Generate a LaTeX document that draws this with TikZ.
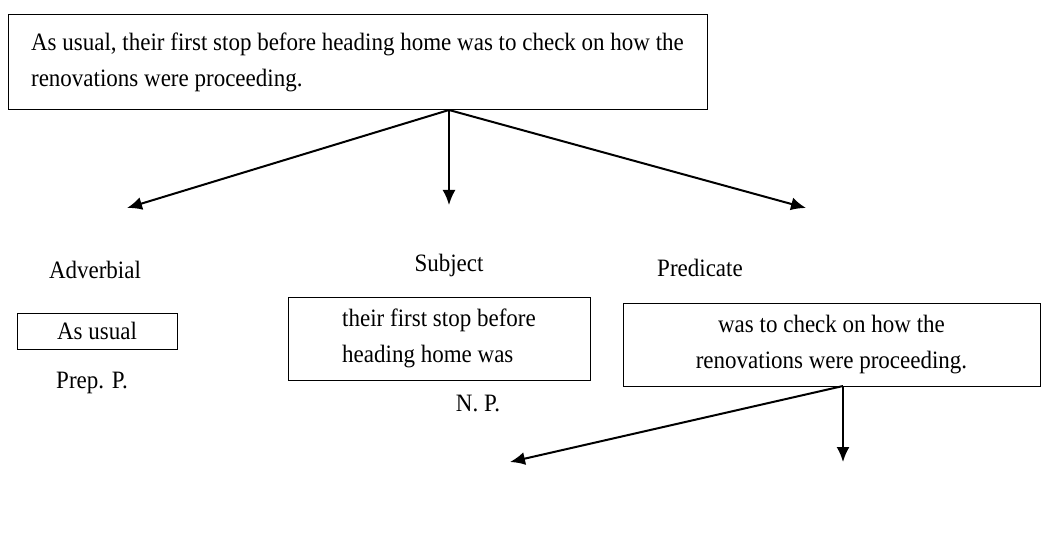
\documentclass[tikz,border=0pt]{standalone}
\usepackage{fontspec}
\setmainfont{Liberation Serif}[FakeStretch=0.92]
\usetikzlibrary{arrows.meta}
\begin{document}
\begin{tikzpicture}[x=0.5pt,y=-0.5pt,
  every node/.style={font=\fontsize{12.5}{18}\selectfont},
  box/.style={draw,line width=0.5pt,inner sep=0pt},
  branch/.style={line width=1pt,-{Latex[length=7.5pt,width=6.5pt]}}]
  \useasboundingbox (0,0) rectangle (1059,545);
  % Sentence box
  \node[box,minimum width=349.5pt,minimum height=47.5pt,align=left] (sentence) at (357.5,62.5)
    {As usual, their first stop before heading home was to check on how the\\renovations were proceeding.};
  % Constituent boxes
  \node[box,minimum width=80pt,minimum height=18pt] (adv) at (97,331) {As usual};
  \node[box,minimum width=151pt,minimum height=41.5pt,align=left] (subj) at (439,338.5)
    {their first stop before\\heading home was};
  \node[box,minimum width=208.5pt,minimum height=41.5pt,align=center] (pred) at (831.5,344.5)
    {was to check on how the\\renovations were proceeding.};
  % Labels
  \node (advlabel) at (95,270) {Adverbial};
  \node (subjlabel) at (449,265) {Subject};
  \node (predlabel) at (700,268) {Predicate};
  \node (advphrase) at (92,383) {Prep. P.};
  \node (subjphrase) at (478,403) {N. P.};
  % Arrows
  \coordinate (fork) at (449,110);
  \coordinate (forkpred) at (843,386);
  \coordinate (tipadv) at (127,208);
  \coordinate (tipsubj) at (449,205);
  \coordinate (tippred) at (806,208);
  \coordinate (tipleft) at (510,462);
  \coordinate (tipright) at (843,462);
  \foreach \t in {tipadv,tipsubj,tippred} {\draw[branch] (fork) -- (\t);}
  \foreach \t in {tipleft,tipright} {\draw[branch] (forkpred) -- (\t);}
\end{tikzpicture}
\end{document}
